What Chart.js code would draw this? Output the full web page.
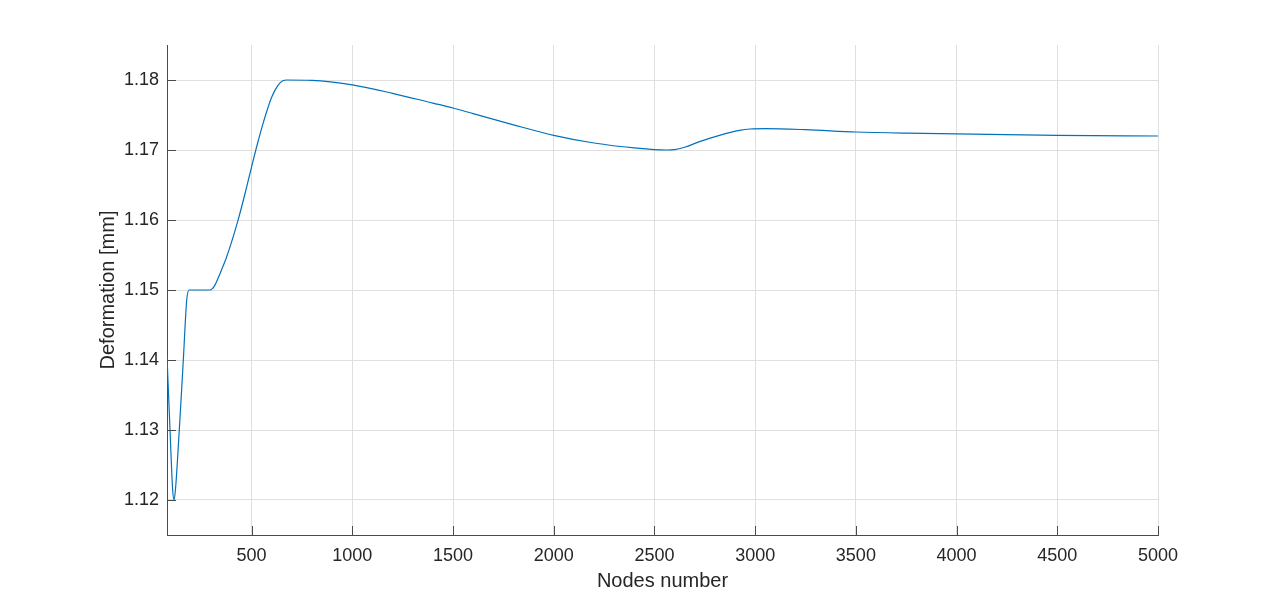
<!DOCTYPE html>
<html>
<head>
<meta charset="utf-8">
<title>Deformation vs nodes</title>
<script src="https://cdn.jsdelivr.net/npm/chart.js@4"></script>
<style>
  html, body { margin: 0; padding: 0; background: #fff; }
  canvas { display: block; }
</style>
</head>
<body>
<canvas id="deformChart" width="1280" height="602"></canvas>
<script>
// Datos
const nodes = [80, 95, 108, 115, 122, 141, 161, 178, 190, 240, 293, 305, 318, 334, 351, 372, 400, 431, 465, 500, 530, 560, 599, 630, 655, 675, 800, 1000, 1200, 1400, 1500, 1600, 1800, 2000, 2200, 2400, 2560, 2600, 2650, 2724, 2823, 2922, 2975, 3050, 3250, 3500, 3750, 4000, 4500, 5000];
const deformation = [1.1405, 1.1300, 1.1215, 1.1200, 1.1215, 1.1300, 1.1400, 1.1486, 1.1500, 1.1500, 1.1500, 1.1502, 1.1507, 1.1517, 1.1529, 1.1544, 1.1568, 1.1598, 1.1635, 1.1676, 1.1710, 1.1741, 1.1775, 1.1792, 1.1799, 1.1800, 1.17995, 1.1793, 1.1781, 1.1767, 1.1760, 1.1752, 1.1736, 1.1721, 1.1710, 1.1703, 1.1700, 1.17005, 1.1704, 1.1712, 1.1721, 1.1728, 1.1730, 1.17305, 1.1729, 1.17257, 1.1724, 1.1723, 1.1721, 1.1720];
const xTicks = [500, 1000, 1500, 2000, 2500, 3000, 3500, 4000, 4500, 5000];
const yTicks = [1.12, 1.13, 1.14, 1.15, 1.16, 1.17, 1.18];

const axisColor = '#4a4a4a';
const textColor = '#262626';
const gridColor = '#dfdfdf';
const fontFamily = '"Liberation Sans", Arial, Helvetica, sans-serif';

// Marcas de los ejes hacia dentro (estilo MATLAB)
const innerTicks = {
    id: 'innerTicks',
    afterDraw(chart) {
        const ctx = chart.ctx;
        const xs = chart.scales.x;
        const ys = chart.scales.y;
        const area = chart.chartArea;
        ctx.save();
        ctx.strokeStyle = axisColor;
        ctx.lineWidth = 1;
        ctx.beginPath();
        xTicks.forEach(v => {
            const px = Math.round(xs.getPixelForValue(v)) + 0.5;
            ctx.moveTo(px, area.bottom);
            ctx.lineTo(px, area.bottom - 9);
        });
        yTicks.forEach(v => {
            const py = Math.round(ys.getPixelForValue(v)) + 0.5;
            ctx.moveTo(area.left, py);
            ctx.lineTo(area.left + 9, py);
        });
        ctx.stroke();
        ctx.restore();
    }
};

const ctx = document.getElementById('deformChart').getContext('2d');
new Chart(ctx, {
    type: 'line',
    data: {
        datasets: [{
            data: nodes.map((n, i) => ({ x: n, y: deformation[i] })),
            borderColor: '#0072BD',
            borderWidth: 1.2,
            pointRadius: 0,
            fill: false,
            cubicInterpolationMode: 'monotone'
        }]
    },
    options: {
        responsive: false,
        animation: false,
        layout: { padding: { left: 0, right: 122, top: 45, bottom: 0 } },
        plugins: {
            legend: { display: false },
            tooltip: { enabled: false }
        },
        scales: {
            x: {
                type: 'linear',
                min: 80,
                max: 5000,
                afterBuildTicks: scale => { scale.ticks = xTicks.map(v => ({ value: v })); },
                afterFit: scale => { scale.height = 67; },
                grid: { color: gridColor, drawTicks: false },
                border: { color: axisColor, width: 1 },
                ticks: {
                    padding: 10,
                    color: textColor,
                    font: { family: fontFamily, size: 18 },
                    maxRotation: 0,
                    callback: v => String(v)
                },
                title: {
                    display: true,
                    text: 'Nodes number',
                    color: textColor,
                    font: { family: fontFamily, size: 20 },
                    padding: { top: 0, bottom: 9 }
                }
            },
            y: {
                type: 'linear',
                min: 1.115,
                max: 1.185,
                afterBuildTicks: scale => { scale.ticks = yTicks.map(v => ({ value: v })); },
                afterFit: scale => { scale.width = 167; },
                grid: { color: gridColor, drawTicks: false },
                border: { color: axisColor, width: 1 },
                ticks: {
                    padding: 8,
                    color: textColor,
                    font: { family: fontFamily, size: 18 },
                    callback: v => v.toFixed(2)
                },
                title: {
                    display: true,
                    text: 'Deformation [mm]',
                    color: textColor,
                    font: { family: fontFamily, size: 20 },
                    padding: { top: 96, bottom: 0 }
                }
            }
        }
    },
    plugins: [innerTicks]
});
</script>
</body>
</html>
